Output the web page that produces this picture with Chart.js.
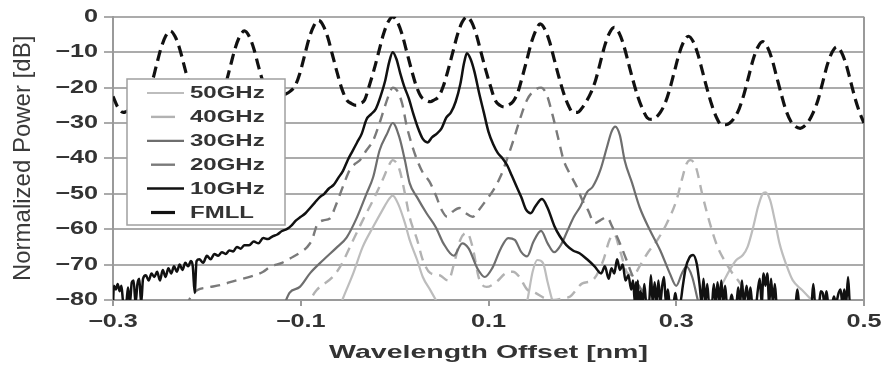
<!DOCTYPE html>
<html><head><meta charset="utf-8">
<script src="https://cdn.jsdelivr.net/npm/chart.js@4.4.1/dist/chart.umd.min.js"></script>
<style>html,body{margin:0;padding:0;background:#fff}canvas{display:block}</style>
</head><body>
<canvas id="c" width="887" height="371"></canvas>
<script>
// ---------------- data ----------------
const seriesNames = ['50GHz', '40GHz', '30GHz', '20GHz', '10GHz', 'FMLL'];
const xTitle = 'Wavelength Offset [nm]';
const yTitle = 'Normalized Power [dB]';
const xTickValues = [-0.3, -0.1, 0.1, 0.3, 0.5];
const xTickLabels = ['\u22120.3', '\u22120.1', '0.1', '0.3', '0.5'];
const yTickValues = [-80, -70, -60, -50, -40, -30, -20, -10, 0];
const yTickLabels = ['\u221280', '\u221270', '\u221260', '\u221250', '\u221240', '\u221230', '\u221220', '\u221210', '0'];

const fmllX = [-0.300,-0.295,-0.289,-0.281,-0.274,-0.269,-0.264,-0.259,-0.254,-0.249,-0.244,-0.239,-0.234,-0.229,-0.224,-0.219,-0.214,-0.209,-0.204,-0.200,
 -0.195,-0.190,-0.185,-0.180,-0.175,-0.170,-0.165,-0.160,-0.155,-0.150,-0.145,-0.140,-0.135,-0.130,-0.125,-0.120,
 -0.116,-0.111,-0.106,-0.101,-0.096,-0.091,-0.086,-0.081,-0.076,-0.071,-0.066,-0.061,-0.056,-0.051,-0.046,-0.041,
 -0.037,-0.032,-0.027,-0.022,-0.017,-0.012,-0.007,-0.002,0.003,0.008,0.013,0.018,0.023,0.028,0.033,0.038,
 0.042,0.047,0.052,0.057,0.062,0.067,0.072,0.077,0.082,0.087,0.092,0.097,0.102,0.107,0.112,0.117,
 0.121,0.126,0.131,0.136,0.141,0.146,0.151,0.155,0.160,0.165,0.170,0.175,0.180,0.185,0.190,0.195,
 0.199,0.204,0.209,0.214,0.219,0.224,0.229,0.234,0.239,0.244,0.249,0.254,0.259,0.264,0.269,0.274,
 0.278,0.283,0.288,0.293,0.298,0.303,0.308,0.313,0.318,0.323,0.328,0.333,0.338,0.343,0.348,0.353,
 0.357,0.362,0.367,0.372,0.377,0.382,0.387,0.392,0.397,0.402,0.407,0.412,0.417,0.422,0.427,0.432,
 0.436,0.441,0.446,0.451,0.456,0.461,0.466,0.471,0.476,0.481,0.486,0.491,0.496,0.500];
const fmllY = [-22.5,-25.5,-27,-26,-24.5,-23.5,-22,-19,-14,-9,-5.5,-4,-5.5,-9,-14,-19,-22.5,-23.5,-24.5,-25,
 -24.5,-23.5,-22.5,-19,-14,-9,-5.5,-4,-5.5,-9,-14,-18.5,-20.5,-21.5,-21.8,-22,
 -21.8,-21,-19.5,-16,-11,-6,-2.5,-1,-2.5,-6,-11,-16,-20.5,-23.5,-24.5,-25,
 -24.5,-23.5,-19.5,-15,-10,-5,-1.5,0,-1.5,-5,-10,-15,-19.5,-22.5,-23.5,-24,
 -23.5,-22.5,-19.5,-15,-10,-5,-1.5,0,-1.5,-5,-10,-15,-19.5,-23.5,-25,-25.5,
 -25,-24,-21.5,-17,-12,-7,-3.5,-2,-3.5,-7,-12,-17,-21.5,-25,-27,-27,
 -26,-24,-21.5,-18,-13,-8,-4.5,-3,-4.5,-8,-13,-18,-22.5,-26,-28.5,-29,
 -28.5,-27,-24.5,-20.5,-15.5,-10.5,-7,-5.5,-7,-10.5,-15.5,-20.5,-25,-28.5,-30.5,-30.5,
 -30,-28.5,-26,-22,-17,-12,-8.5,-7,-8.5,-12,-17,-22,-26.5,-29.5,-31,-31.5,
 -31,-29.5,-27,-23.5,-18.5,-13.5,-10,-8.5,-10,-13.5,-18.5,-23.5,-27.5,-30];

const g10X = [-0.300,-0.299,-0.297,-0.295,-0.293,-0.291,-0.289,-0.286,-0.284,-0.282,-0.280,-0.278,-0.276,-0.274,-0.272,-0.270,-0.268,-0.265,-0.262,-0.259,
 -0.256,-0.253,-0.250,-0.247,-0.244,-0.241,-0.238,-0.235,-0.232,-0.229,-0.226,-0.223,-0.220,-0.217,-0.215,-0.213,-0.211,-0.208,-0.204,-0.200,
 -0.196,-0.192,-0.188,-0.184,-0.180,-0.176,-0.172,-0.168,-0.164,-0.160,-0.155,-0.150,-0.145,-0.140,-0.135,-0.130,-0.125,-0.120,-0.115,-0.110,
 -0.105,-0.100,-0.095,-0.090,-0.085,-0.080,-0.075,-0.070,-0.065,-0.060,-0.055,-0.050,-0.045,-0.040,-0.035,-0.030,-0.025,-0.020,-0.015,-0.010,
 -0.006,-0.002,0.002,0.006,0.010,0.015,0.020,0.025,0.030,0.035,0.040,0.045,0.050,0.055,0.060,0.065,0.070,0.074,0.077,0.081,
 0.085,0.090,0.095,0.100,0.105,0.110,0.115,0.120,0.125,0.130,0.135,0.140,0.145,0.150,0.157,0.163,0.170,0.176,0.183,0.190,
 0.197,0.205,0.213,0.220,0.224,0.228,0.231,0.234,0.237,0.240,0.243,0.246,0.249,0.252,0.254,0.256,0.257,0.258,0.259,0.260,0.262,0.264,
 0.266,0.268,0.271,0.273,0.275,0.277,0.279,0.281,0.283,0.285,0.287,0.289,0.291,0.293,0.297,0.299,0.301,0.304,0.307,0.310,
 0.314,0.318,0.322,0.325,0.327,0.329,0.331,0.333,0.335,0.338,0.340,0.342,0.344,0.346,0.348,0.350,0.352,0.354,0.357,0.359,
 0.361,0.364,0.366,0.368,0.370,0.372,0.375,0.377,0.379,0.381,0.385,0.387,0.389,0.391,0.393,0.395,0.397,0.399,0.401,0.403,
 0.405,0.407,0.427,0.429,0.431,0.444,0.446,0.448,0.452,0.454,0.456,0.458,0.460,0.462,0.466,0.468,0.470,0.473,0.475,0.477,
 0.479,0.481,0.483,0.485,0.490];
const g10Y = [-81,-76,-77,-75.5,-77.5,-76,-81,-81,-76.5,-81,-75,-74.5,-81,-75.5,-74,-81,-74,-73,-74.5,-72.5,
 -73.5,-72,-74.5,-71.5,-73.5,-71,-72.5,-70.5,-72,-70,-71.5,-69.5,-70.5,-69,-70.5,-78,-69,-68.5,-69.5,-67.5,
 -68.5,-67,-67.5,-66.5,-67,-66,-66.3,-65,-65.5,-64.5,-64.5,-63.5,-64,-62.5,-62.8,-62,-61.5,-60.5,-60,-59,
 -57.5,-56.5,-55.5,-54,-52.5,-51,-50,-48.5,-47.5,-45.5,-43.5,-40.5,-38,-35.5,-33,-29,-27.5,-26,-22.5,-18,
 -13,-10,-12,-16,-19.5,-23,-27.5,-31.5,-34.5,-35.5,-34,-33,-31.5,-28.5,-27,-24,-19,-13,-10.3,-12,
 -15.5,-21.5,-27,-32.5,-36,-38.5,-40,-42,-45,-48,-51,-54.5,-55.5,-53.5,-51.5,-54,-59,-62,-64.5,-66,
 -66.8,-68.5,-70.5,-72.5,-70.5,-74,-71,-72.5,-68.5,-71.5,-70,-74.5,-73,-77,-74.5,-81,-75,-81,-74.5,-81,-77.5,-81,
 -75.5,-81,-81,-73,-81,-75,-81,-74.5,-81,-76,-73.5,-81,-77,-81,-81,-78,-81,-81,-76,-71,
 -68,-67.3,-70,-76,-81,-74,-81,-75.5,-81,-81,-75.5,-81,-75,-81,-74.5,-81,-76,-81,-81,-78.5,
 -81,-81,-76.5,-81,-74.5,-81,-76,-81,-76.5,-81,-81,-77,-74,-81,-72.5,-76,-72.5,-81,-74,-81,
 -75.5,-81,-81,-77,-81,-81,-75.5,-81,-81,-77.5,-78,-81,-77.5,-81,-81,-79,-81,-78,-77,-81,
 -77,-81,-73.5,-81,-81];

const g20X = [-0.222,-0.218,-0.210,-0.200,-0.186,-0.168,-0.151,-0.140,-0.133,-0.120,-0.111,-0.100,-0.093,-0.088,-0.083,-0.076,-0.069,-0.063,-0.058,-0.053,
 -0.048,-0.042,-0.037,-0.030,-0.023,-0.016,-0.010,-0.006,-0.002,0.003,0.008,0.013,0.018,0.024,0.030,0.037,0.044,0.050,0.056,0.062,
 0.069,0.076,0.083,0.090,0.097,0.105,0.113,0.120,0.127,0.134,0.141,0.148,0.156,0.162,0.168,0.174,0.180,0.187,0.194,0.200,
 0.206,0.213,0.219,0.226,0.232,0.240,0.247,0.254,0.261,0.269,0.275];
const g20Y = [-82,-79.5,-77.2,-76.5,-75.8,-74.4,-73.2,-72,-70.7,-69.5,-68.2,-66.5,-65,-63,-59,-57.5,-57,-53.5,-50,-46.5,
 -43.4,-41.5,-40.5,-37.7,-35,-30,-25,-22,-20,-21,-24.5,-31,-35.8,-40.5,-44,-46.5,-50.5,-54.5,-56.5,-55,
 -54,-55.5,-56.5,-54.5,-52,-49,-45,-40,-34.5,-28.5,-23.5,-21,-20,-22,-27.5,-34,-40.5,-44.5,-48,-51.8,
 -54.6,-58.3,-57.5,-56.6,-59.4,-64,-68.7,-73.5,-76.3,-80.5,-83];

const g30X = [-0.120,-0.112,-0.101,-0.090,-0.076,-0.061,-0.051,-0.040,-0.030,-0.023,-0.016,-0.008,-0.002,0.005,0.011,0.016,0.024,0.034,0.044,0.052,
 0.063,0.072,0.079,0.088,0.096,0.104,0.113,0.121,0.128,0.135,0.141,0.148,0.156,0.163,0.170,0.177,0.184,0.191,0.198,0.205,
 0.211,0.219,0.226,0.231,0.235,0.240,0.245,0.253,0.261,0.272,0.283,0.293,0.300,0.306,0.311,0.317,0.324,0.330];
const g30Y = [-83,-78,-76.3,-72.4,-68.7,-65,-62.3,-56.6,-50,-45.4,-37.7,-33,-30,-34,-40.6,-47,-51,-55.5,-59.5,-64,
 -67.5,-64,-65.5,-71,-73.5,-71,-65.5,-62.5,-63,-66.5,-67.7,-63.5,-60.5,-64,-66.5,-64.5,-60.5,-56.5,-53.5,-49.5,
 -48,-43.4,-37,-32.5,-31,-33.5,-40.5,-47,-53.8,-60.3,-66,-72.4,-76,-72.5,-70.6,-73.5,-81,-84];

const g40X = [-0.095,-0.090,-0.083,-0.066,-0.058,-0.044,-0.034,-0.023,-0.013,-0.005,-0.002,0.005,0.011,0.016,0.024,0.030,0.038,0.048,0.057,0.064,
 0.070,0.077,0.083,0.090,0.098,0.108,0.118,0.126,0.133,0.141,0.150,0.160,0.170,0.180,0.187,0.200,0.211,0.222,0.229,0.234,
 0.240,0.248,0.254,0.262,0.270,0.280,0.290,0.300,0.306,0.311,0.315,0.321,0.328,0.336,0.344,0.354,0.360,0.366,0.372,0.380,0.386];
const g40Y = [-83,-80,-77.2,-73.5,-70.6,-63,-57.5,-51.8,-46.2,-41.4,-40.5,-43,-50,-56.6,-63,-68.7,-72.4,-73,-74.5,-69,
 -63,-61,-65,-74,-76.3,-75,-72.5,-72,-73.5,-77,-78,-79.5,-80,-79.5,-79,-75.3,-74.4,-69,-63,-61.5,
 -66,-72.4,-73,-70,-66.5,-63,-58.3,-52,-46,-41.5,-40.5,-42.5,-50.5,-58.5,-65,-70,-72.5,-74.5,-77,-81,-84];

const g50X = [-0.060,-0.055,-0.044,-0.034,-0.023,-0.013,-0.006,-0.002,0.004,0.011,0.016,0.024,0.030,0.038,0.046,0.052,0.135,0.141,0.147,0.152,
 0.158,0.163,0.169,0.175,0.334,0.340,0.345,0.350,0.357,0.364,0.371,0.376,0.382,0.387,0.392,0.395,0.400,0.405,0.410,0.418,
 0.424,0.434,0.442,0.448,0.455];
const g50Y = [-83,-79.5,-72.4,-65,-59.4,-54.6,-51.5,-50.5,-53,-58.3,-63,-68.7,-73.5,-77.2,-81,-84,-84,-80.5,-72,-68.7,
 -69.5,-75,-81,-84,-84,-80.5,-77.5,-75,-71.5,-68.7,-67.3,-65,-59.4,-53.8,-50,-49.6,-51.8,-57.5,-64,-70.6,
 -74.4,-77.2,-79.4,-81,-84];

// ---------------- rendering ----------------
const canvas = document.getElementById('c');
const ctx = canvas.getContext('2d');
// horizontal glyph stretch per font size (the reference text is drawn wide)
const STRETCH_BY_SIZE = { 18: 1.4, 19: 1.5, 16: 1.5 };
const nativeFill = ctx.fillText;
const nativeMeasure = ctx.measureText;
function stretchFor(c) {
  const m = /(\d+(?:\.\d+)?)px/.exec(c.font);
  const sz = m ? Math.round(parseFloat(m[1])) : 0;
  return STRETCH_BY_SIZE[sz] || 1;
}
ctx.fillText = function (text, x, y, maxWidth) {
  const m = this.getTransform();
  const s = stretchFor(this);
  if (s === 1 || Math.abs(m.b) > 1e-6 || Math.abs(m.c) > 1e-6) {
    return maxWidth === undefined ? nativeFill.call(this, text, x, y) : nativeFill.call(this, text, x, y, maxWidth);
  }
  this.save();
  this.translate(x, y);
  this.scale(s, 1);
  if (maxWidth === undefined) nativeFill.call(this, text, 0, 0);
  else nativeFill.call(this, text, 0, 0, maxWidth / s);
  this.restore();
};
ctx.measureText = function (text) {
  const r = nativeMeasure.call(this, text);
  const s = stretchFor(this);
  return { width: r.width * s, actualBoundingBoxAscent: r.actualBoundingBoxAscent, actualBoundingBoxDescent: r.actualBoundingBoxDescent };
};

function pts(xs, ys) { return xs.map((x, i) => ({ x: x, y: ys[i] })); }

const styles = {
  '50GHz': { color: '#bdbdbd', width: 2.2, dash: [], order: 5 },
  '40GHz': { color: '#b2b2b2', width: 2.4, dash: [10, 7], order: 4 },
  '30GHz': { color: '#6e6e6e', width: 2.2, dash: [], order: 3 },
  '20GHz': { color: '#7a7a7a', width: 2.4, dash: [10, 7], order: 2 },
  '10GHz': { color: '#111111', width: 2.5, dash: [], order: 1 },
  'FMLL':  { color: '#111111', width: 3.2, dash: [11, 6], order: 0 }
};
const seriesData = {
  '50GHz': pts(g50X, g50Y), '40GHz': pts(g40X, g40Y), '30GHz': pts(g30X, g30Y),
  '20GHz': pts(g20X, g20Y), '10GHz': pts(g10X, g10Y), 'FMLL': pts(fmllX, fmllY)
};

const datasets = seriesNames.map(n => ({
  label: n,
  data: seriesData[n],
  borderColor: styles[n].color,
  borderWidth: styles[n].width,
  borderDash: styles[n].dash,
  pointRadius: 0,
  fill: false,
  cubicInterpolationMode: 'monotone',
  order: styles[n].order
}));

const frameAndLegend = {
  id: 'frameAndLegend',
  beforeDatasetsDraw(chart) {
    const a = chart.chartArea, c = chart.ctx;
    c.save();
    c.strokeStyle = '#9a9a9a'; c.lineWidth = 2;
    c.beginPath(); c.moveTo(a.right, a.top); c.lineTo(a.right, a.bottom); c.stroke();
    c.restore();
  },
  afterDatasetsDraw(chart) {
    const c = chart.ctx;
    c.save();
    c.fillStyle = '#ffffff';
    c.fillRect(127, 79, 158, 146);
    c.strokeStyle = '#a0a0a0'; c.lineWidth = 1.5;
    c.strokeRect(127, 79, 158, 146);
    c.font = 'bold 16px "Liberation Sans", Arial, sans-serif';
    c.textBaseline = 'middle'; c.textAlign = 'left';
    seriesNames.forEach((n, i) => {
      const y = 93 + i * 23.9;
      const s = styles[n];
      c.strokeStyle = s.color; c.lineWidth = s.width; c.setLineDash([]);
      c.beginPath();
      if (s.dash.length) { c.moveTo(151, y); c.lineTo(175, y); }
      else { c.moveTo(147, y); c.lineTo(184, y); }
      c.stroke();
      c.fillStyle = '#333333';
      c.fillText(n, 190, y + 1);
    });
    c.restore();
  }
};

const tickFont = { family: '"Liberation Sans", Arial, sans-serif', size: 18, weight: 'bold' };

new Chart(ctx, {
  type: 'line',
  data: { datasets: datasets },
  plugins: [frameAndLegend],
  options: {
    responsive: false,
    animation: false,
    layout: { padding: { top: 16, right: 23, left: 0, bottom: 0 } },
    plugins: { legend: { display: false }, tooltip: { enabled: false } },
    scales: {
      x: {
        type: 'linear', min: -0.3, max: 0.5,
        afterBuildTicks: s => { s.ticks = xTickValues.map(v => ({ value: v })); },
        afterFit: s => { s.height = 71; },
        ticks: { callback: (v, i) => xTickLabels[i], font: tickFont, color: '#333', padding: 5, maxRotation: 0, autoSkip: false },
        grid: { drawOnChartArea: false, drawTicks: true, tickLength: 6, color: '#9a9a9a', lineWidth: 2 },
        border: { display: true, color: '#9a9a9a', width: 2 },
        title: { display: true, text: xTitle, color: '#333', font: { family: '"Liberation Sans", Arial, sans-serif', size: 19, weight: 'bold' }, padding: { top: 0, bottom: 7 } }
      },
      y: {
        type: 'linear', min: -80, max: 0,
        afterBuildTicks: s => { s.ticks = yTickValues.map(v => ({ value: v })); },
        afterFit: s => { s.width = 113; },
        ticks: { callback: (v, i) => yTickLabels[i], font: tickFont, color: '#333', padding: 6 },
        grid: { color: '#ababab', lineWidth: 2, tickLength: 9 },
        border: { display: true, color: '#9a9a9a', width: 2 },
        title: { display: true, text: yTitle, color: '#3a3a3a', font: { family: '"Liberation Sans", Arial, sans-serif', size: 24, weight: 'normal' }, padding: { top: 9, bottom: 0 } }
      }
    }
  }
});
</script>
</body></html>
